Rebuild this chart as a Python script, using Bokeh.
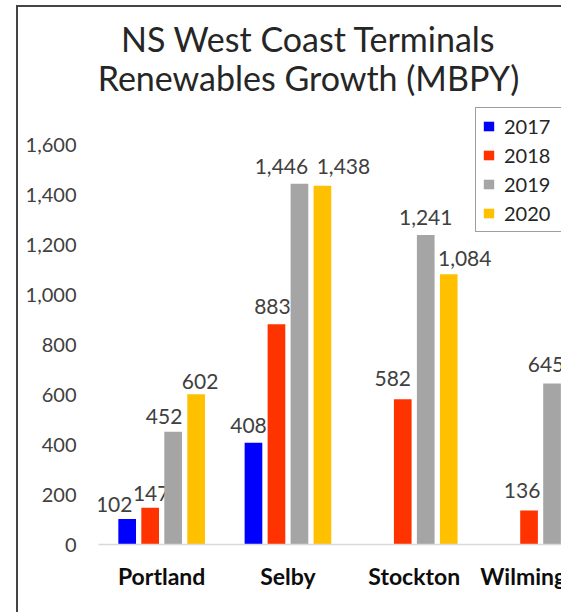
from bokeh.plotting import figure
from bokeh.models import (Range1d, FixedTicker, Label, Legend, LegendItem, Column,
                          ColumnDataSource, NumeralTickFormatter, InlineStyleSheet)
from bokeh.core.properties import value
from bokeh.embed import file_html
from bokeh.resources import INLINE

# ---------------- data ----------------
categories = ["Portland", "Selby", "Stockton", "Wilmington"]
years = ["2017", "2018", "2019", "2020"]
v2017 = [102, 408, None, None]
v2018 = [147, 883, 582, 136]
v2019 = [452, 1446, 1241, 645]
v2020 = [602, 1438, 1084, None]   # Wilmington 2020 is cut off in the source image
y_ticks = [0, 200, 400, 600, 800, 1000, 1200, 1400, 1600]
title_line1 = "NS West Coast Terminals"
title_line2 = "Renewables Growth (MBPY)"

# ---------------- style ----------------
series = [v2017, v2018, v2019, v2020]
colors = ["#0000FF", "#FF3300", "#A5A5A5", "#FFC000"]
FONT_NAME = "Lato"
FONT = value(FONT_NAME)
bar_pitch = 0.182
bar_width = 0.14
label_lift = -17
# label nudges (screen px) to mimic the hand-placed labels of the original
nudge = {
    (0, 0): (-13, 2), (0, 1): (1, 3), (0, 2): (-9, 2), (0, 3): (4, 4),
    (1, 0): (-5, 0), (1, 1): (-4, -1), (1, 2): (-18, 0), (1, 3): (21, -2),
    (2, 1): (-10, -4), (2, 2): (0, 0), (2, 3): (16, 1),
    (3, 1): (-7, -3), (3, 2): (-6, -2),
}

PLOT_W = 640
p = figure(width=PLOT_W, height=605, output_backend="svg", toolbar_location=None,
           x_range=Range1d(0, 4.434), y_range=Range1d(0, 2153),
           min_border_left=80, min_border_right=0, min_border_bottom=68,
           min_border_top=0, title=None, sizing_mode="fixed")
p.stylesheets = [InlineStyleSheet(css=f""":host {{
  width: {PLOT_W}px !important; min-width: {PLOT_W}px !important;
  max-width: none !important; flex: none !important;
}}""")]
p.outline_line_color = None
p.background_fill_color = "white"
p.border_fill_color = "white"
p.xgrid.grid_line_color = None
p.ygrid.grid_line_color = None

items = []
for j, (yr, vals, col) in enumerate(zip(years, series, colors)):
    xs, tops, labs, dxs, dys = [], [], [], [], []
    for i, v in enumerate(vals):
        if v is None:
            continue
        xs.append(i + 0.5 + (j - 1.5) * bar_pitch)
        tops.append(v)
        labs.append(f"{v:,}")
        dx, dy = nudge.get((i, j), (0, 0))
        dxs.append(dx)
        dys.append(label_lift + dy)
    src = ColumnDataSource(dict(x=xs, top=tops, label=labs, dx=dxs, dy=dys))
    r = p.vbar(x="x", top="top", bottom=0, width=bar_width, source=src,
               fill_color=col, line_color=None)
    p.text(x="x", y="top", text="label", x_offset="dx", y_offset="dy", source=src,
           text_align="center", text_baseline="middle",
           text_font=FONT, text_font_size="21px", text_color="#404040")
    items.append(LegendItem(label=yr, renderers=[r]))

legend = Legend(items=items, location=(377, 312), orientation="vertical",
                label_text_font=FONT_NAME, label_text_font_size="20px",
                label_text_color="#262626", glyph_width=13, glyph_height=12,
                label_height=22, label_width=60, label_standoff=9,
                spacing=5, padding=6,
                border_line_color="#404040", border_line_width=1,
                background_fill_color="white", background_fill_alpha=1)
p.add_layout(legend)

# two-line chart title
for txt, ypos in ((title_line1, 506), (title_line2, 467)):
    p.add_layout(Label(x=210, y=ypos, x_units="screen", y_units="screen",
                       text=txt, text_font=FONT_NAME, text_font_size="34px",
                       text_color="#262626", text_align="center",
                       text_baseline="middle"))

# axes
p.yaxis.ticker = FixedTicker(ticks=y_ticks)
p.yaxis.formatter = NumeralTickFormatter(format="0,0")
p.yaxis.axis_line_color = None
p.yaxis.major_tick_line_color = None
p.yaxis.major_tick_out = 0
p.yaxis.minor_tick_line_color = None
p.yaxis.major_label_standoff = 22
p.yaxis.major_label_text_font = FONT_NAME
p.yaxis.major_label_text_font_size = "20px"
p.yaxis.major_label_text_color = "#404040"

p.xaxis.ticker = FixedTicker(ticks=[i + 0.5 for i in range(len(categories))])
p.xaxis.major_label_overrides = {i + 0.5: c for i, c in enumerate(categories)}
p.xaxis.axis_line_color = "#D9D9D9"
p.xaxis.axis_line_width = 1.5
p.xaxis.major_tick_line_color = None
p.xaxis.major_tick_out = 0
p.xaxis.minor_tick_line_color = None
p.xaxis.major_label_standoff = 17
p.xaxis.major_label_text_font = FONT_NAME
p.xaxis.major_label_text_font_size = "23px"
p.xaxis.major_label_text_font_style = "bold"
p.xaxis.major_label_text_color = "#0d0d0d"

# frame: the original chart is cropped on the right, so clip the wider plot
frame_css = InlineStyleSheet(css=""":host {
  position: relative !important; left: 16px !important; top: 5px !important;
  box-sizing: border-box !important; width: 545px !important;
  overflow: hidden !important;
  border-left: 2px solid #444444 !important; border-top: 2px solid #444444 !important;
}""")
layout = Column(children=[p], stylesheets=[frame_css])

open("out.html", "w").write(file_html(layout, INLINE))
